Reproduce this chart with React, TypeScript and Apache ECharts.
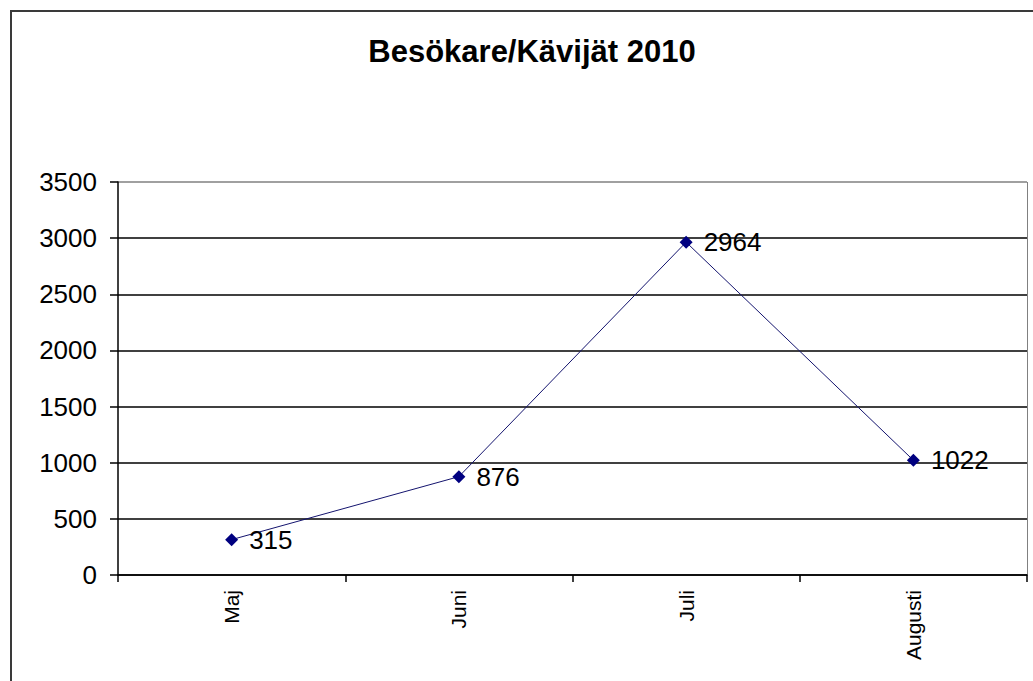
import React, { useEffect, useRef } from "react";
import * as echarts from "echarts";

const categories = ["Maj", "Juni", "Juli", "Augusti"];
const visitors = [315, 876, 2964, 1022];
const yTicks = [0, 500, 1000, 1500, 2000, 2500, 3000, 3500];
const titleText = "Besökare/Kävijät 2010";

export default function App() {
  const ref = useRef<HTMLDivElement>(null);
  useEffect(() => {
    if (!ref.current) return;
    const chart = echarts.init(ref.current, null, { renderer: "svg" });
    const font = "'Liberation Sans', Arial, sans-serif";
    chart.setOption({
      animation: false,
      backgroundColor: "#ffffff",
      title: {
        text: titleText,
        left: 527,
        top: 31,
        textAlign: "center",
        textStyle: { fontFamily: font, fontSize: 31, fontWeight: "bold", color: "#000" },
      },
      graphic: [
        {
          type: "polyline",
          shape: { points: [[11, 700], [11, 11], [1100, 11]] },
          style: { stroke: "#3a3a3a", lineWidth: 2, fill: "none" },
          silent: true,
        },
        {
          type: "line",
          shape: { x1: 1027.5, y1: 182, x2: 1027.5, y2: 575 },
          style: { stroke: "#808080", lineWidth: 1 },
          silent: true,
        },
      ],
      grid: { left: 118, top: 182, right: 6, bottom: 106, containLabel: false },
      xAxis: {
        type: "category",
        data: categories,
        boundaryGap: true,
        axisLine: { show: true, lineStyle: { color: "#000", width: 1.5 } },
        axisTick: { show: true, length: 7, alignWithLabel: false, lineStyle: { color: "#000", width: 1.5 } },
        axisLabel: { rotate: 90, margin: 15, fontFamily: font, fontSize: 21, color: "#000" },
        splitLine: { show: false },
      },
      yAxis: {
        type: "value",
        min: yTicks[0],
        max: yTicks[yTicks.length - 1],
        interval: 500,
        axisLine: { show: true, lineStyle: { color: "#000", width: 1.5 } },
        axisTick: { show: true, length: 8, lineStyle: { color: "#000", width: 1.5 } },
        axisLabel: {
          margin: 21,
          fontFamily: font,
          fontSize: 26,
          color: "#000",
          formatter: (v: number) => String(v),
        },
        splitLine: {
          show: true,
          lineStyle: {
            color: ["#000", "#000", "#000", "#000", "#000", "#000", "#000", "#808080"],
            width: 1.5,
          },
        },
      },
      series: [
        {
          type: "line",
          data: visitors,
          symbol: "diamond",
          symbolSize: 13,
          itemStyle: { color: "#000080" },
          lineStyle: { color: "#14146e", width: 1 },
          label: {
            show: true,
            position: "right",
            distance: 11,
            fontFamily: font,
            fontSize: 26,
            color: "#000",
          },
        },
      ],
    });
    return () => chart.dispose();
  }, []);
  return (
    <div
      ref={ref}
      style={{ position: "fixed", left: 0, top: 0, width: 1033, height: 681 }}
    />
  );
}
